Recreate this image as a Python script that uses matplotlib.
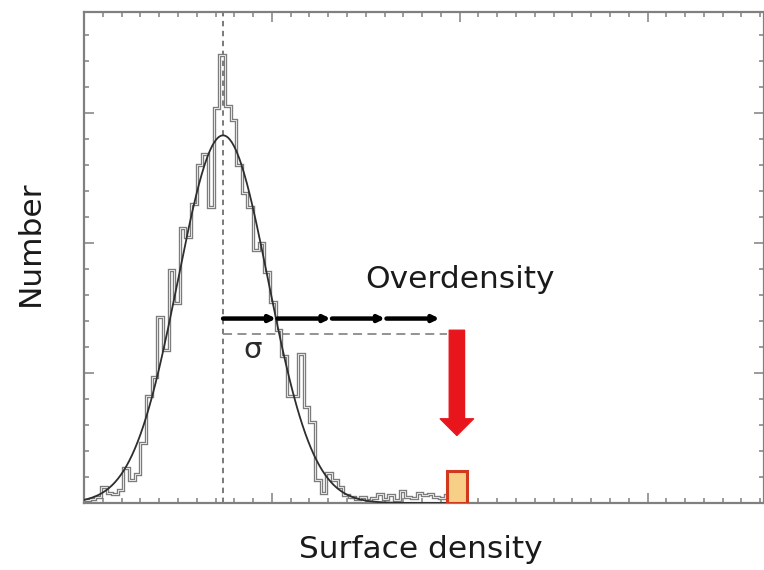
import numpy as np
import matplotlib.pyplot as plt
from matplotlib.patches import Rectangle
from matplotlib.ticker import MultipleLocator, NullFormatter

# histogram of surface density (bin width 0.03, starting at 0)
bin_width = 0.03
counts = [0.02, 0.03, 0.05, 0.12, 0.08, 0.07, 0.10, 0.27, 0.18, 0.22,
          0.46, 0.82, 0.97, 1.43, 1.18, 1.79, 1.54, 2.12, 2.05, 2.30,
          2.60, 2.69, 2.28, 3.04, 3.45, 3.06, 2.95, 2.60, 2.39, 2.28,
          1.95, 2.00, 1.78, 1.55, 1.33, 1.13, 0.82, 0.82, 1.15, 0.74,
          0.62, 0.18, 0.08, 0.23, 0.18, 0.12, 0.06, 0.05, 0.03, 0.05,
          0.02, 0.04, 0.07, 0.03, 0.06, 0.02, 0.09, 0.05, 0.04, 0.08,
          0.06, 0.07, 0.05, 0.04, 0.06, 0.18, 0.05]

# gaussian fit to the histogram
fit_mean = 0.74
fit_sigma = 0.24
fit_peak = 2.83

# sigma steps marked by the arrows, and the highlighted overdense bin
step_size = 0.29
n_steps = 4
step_level = 1.42
threshold_level = 1.30
highlight_lo = 1.93
highlight_hi = 2.04
highlight_count = 0.25

edges = np.arange(len(counts) + 1) * bin_width

plt.rcParams['font.family'] = ['DejaVu Sans']
fig = plt.figure(figsize=(7.64, 5.70), dpi=100)
ax = fig.add_axes([0.110, 0.1175, 0.890, 0.8615])

ax.set_xlim(0, 3.62)
ax.set_ylim(0, 3.78)

# histogram outline (grey with a light core)
ax.stairs(counts, edges, baseline=0, color='#7c7c7c', lw=2.4, zorder=2)
ax.stairs(counts, edges, baseline=0, color='#e6e6e6', lw=0.7, zorder=2)

# fitted gaussian
xs = np.linspace(0, 2.0, 400)
ax.plot(xs, fit_peak * np.exp(-0.5 * ((xs - fit_mean) / fit_sigma) ** 2),
        color='#2e2e2e', lw=1.3, zorder=3)

# mean and threshold lines
ax.axvline(fit_mean, color='#707070', lw=1.3, ls=(0, (3, 2.5)), zorder=1)
ax.plot([fit_mean, highlight_lo], [threshold_level, threshold_level],
        color='#8a8a8a', lw=1.3, ls=(0, (5, 3)), zorder=1)

# sigma arrows
marks = fit_mean + step_size * np.arange(n_steps + 1)
for a, b in zip(marks[:-1], marks[1:]):
    ax.annotate('', xy=(b, step_level), xytext=(a, step_level),
                arrowprops=dict(arrowstyle='-|>,head_length=0.45,head_width=0.22',
                                lw=3.2, color='black', mutation_scale=8,
                                shrinkA=0, shrinkB=1), zorder=5)

ax.text(fit_mean + 0.16, 1.18, 'σ', fontsize=21, color='#2a2a2a',
        ha='center', va='center')
ax.text(2.0, 1.72, 'Overdensity', fontsize=22.5, color='#1a1a1a',
        ha='center', va='center')

# red arrow pointing at the overdense bin
x_red = (highlight_lo + highlight_hi) / 2
ax.annotate('', xy=(x_red, 0.52), xytext=(x_red, threshold_level + 0.03),
            arrowprops=dict(arrowstyle='simple,head_length=1.2,head_width=2.4,tail_width=1.1',
                            color='#e8161c', mutation_scale=10,
                            shrinkA=0, shrinkB=0), zorder=6)

ax.add_patch(Rectangle((highlight_lo, 0), highlight_hi - highlight_lo,
                       highlight_count, facecolor='#f8cf86',
                       edgecolor='#d2381e', lw=2.2, zorder=4))

# axes styling
for s in ax.spines.values():
    s.set_color('#808080')
    s.set_linewidth(1.6)
ax.xaxis.set_major_locator(MultipleLocator(1))
ax.xaxis.set_minor_locator(MultipleLocator(0.1))
ax.yaxis.set_major_locator(MultipleLocator(1))
ax.yaxis.set_minor_locator(MultipleLocator(0.2))
ax.xaxis.set_major_formatter(NullFormatter())
ax.yaxis.set_major_formatter(NullFormatter())
ax.tick_params(which='both', direction='in', top=True, right=True,
               color='#808080', width=1.1)
ax.tick_params(which='major', length=7)
ax.tick_params(which='minor', length=3.5)

ax.set_xlabel('Surface density', fontsize=22.5, color='#1a1a1a')
ax.set_ylabel('Number', fontsize=22.5, color='#1a1a1a')
ax.xaxis.set_label_coords(0.496, -0.066)
ax.yaxis.set_label_coords(-0.057, 0.53)

fig.savefig('out.png', dpi=100)
